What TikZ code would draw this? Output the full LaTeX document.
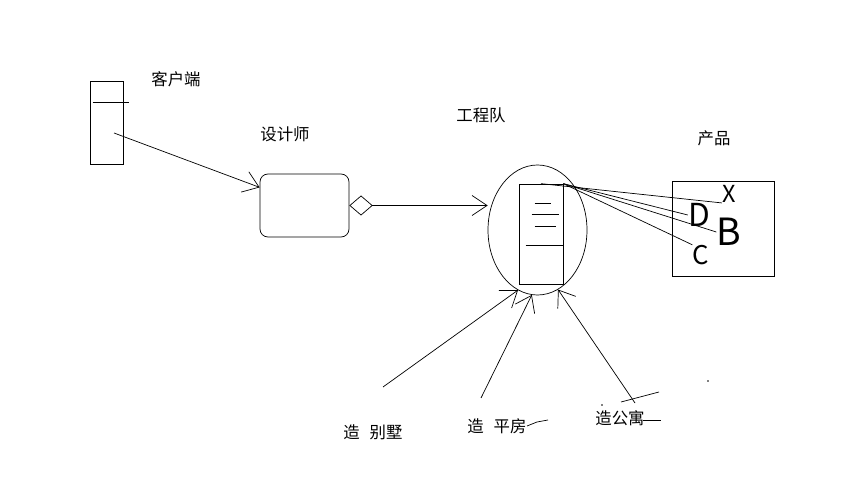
\documentclass[tikz,border=0pt]{standalone}
\usepackage{fontspec}
\newfontfamily\cnfont{Noto Sans CJK SC}
\usepackage{tikz}
\usetikzlibrary{positioning, arrows.meta, shapes.geometric, calc}

\begin{document}
\begin{tikzpicture}[x=0.03cm, y=-0.03cm, line width=0.6pt,
    cntext/.style={font=\cnfont\fontsize{14}{16}\selectfont, inner sep=0pt},
    hand/.style={font=\cnfont\fontsize{#1}{#1}\selectfont, inner sep=0pt},
    flow/.style={-{Straight Barb[length=4.5mm, width=6.5mm, line width=0.6pt]}},
    aggr/.style={{Diamond[open, length=7mm, width=6mm, line width=0.6pt]}-{Straight Barb[length=4.5mm, width=6mm, line width=0.6pt]}}]
    \useasboundingbox (0,0) rectangle (861,485);

    % client
    \node (Client) [draw, minimum width=0.99cm, minimum height=2.49cm, inner sep=0pt] at (106.5,122.5) {};
    \draw ($(Client.north west)+(3,22)$) -- +(36,0);
    \node (ClientLabel) [cntext] at (176,79) {客户端};
    \coordinate (ClientOut) at (114,133);

    % designer
    \node (Designer) [draw, rounded corners=0.24cm, minimum width=2.67cm, minimum height=1.89cm] at (304.5,205.5) {};
    \node (DesignerLabel) [cntext] at (285,134) {设计师};

    % engineering team
    \node (Team) [draw, ellipse, minimum width=2.97cm, minimum height=3.9cm, inner sep=0pt] at (537.5,230) {};
    \node (TeamBox) [draw, minimum width=1.32cm, minimum height=3cm, inner sep=0pt] at (541,234) {};
    \draw ($(TeamBox.north west)+(16,20)$) -- +(16,0);
    \draw ($(TeamBox.north west)+(13,31)$) -- +(27,0);
    \draw ($(TeamBox.north west)+(16,43)$) -- +(21,0);
    \draw ($(TeamBox.north west)+(7,62)$) -- +(37,0);
    \node (TeamLabel) [cntext] at (481,115) {工程队};

    % products
    \node (Products) [draw, minimum width=3.06cm, minimum height=2.85cm, inner sep=0pt] at (723,228.5) {};
    \node (ProductsLabel) [cntext] at (714,138) {产品};
    \node (ProdX) [hand=20] at (729,194) {X};
    \node (ProdD) [hand=27] at (699,215) {D};
    \node (ProdB) [hand=32] at (729,232) {B};
    \node (ProdC) [hand=22] at (701,255) {C};

    \draw[flow] (ClientOut) -- (Designer.158);
    \draw[aggr] (Designer.east) -- (Designer.east -| Team.west);
    \draw (TeamBox.north) -- (ProdX.south west);
    \draw (TeamBox.north east) -- (ProdD.west);
    \draw (TeamBox.north east) -- (ProdB.west);
    \draw (TeamBox.north east) -- (ProdC.north west);

    % orders
    \coordinate (VillaFrom) at (383,387);
    \coordinate (FlatFrom) at (481,398);
    \coordinate (FlatsFrom) at (635,403);
    \draw[flow] (VillaFrom) -- (Team.252);
    \draw[flow] (FlatFrom) -- (Team.265);
    \draw[flow] (FlatsFrom) -- (Team.289);
    \node (VillaLabel) [cntext] at (373,432) {造\hspace{0.6em}别墅};
    \node (FlatLabel) [cntext] at (497,426) {造\hspace{0.6em}平房};
    \node (FlatsLabel) [cntext] at (620,418) {造公寓};

    % scribbles
    \draw (527,426) -- (537,422) -- (548,420);
    \draw (643,420) -- (661,420);
    \draw (621,402) -- (659,392);
    \fill (708,381) circle (0.8);
    \fill (602,405) circle (0.8);
\end{tikzpicture}
\end{document}
